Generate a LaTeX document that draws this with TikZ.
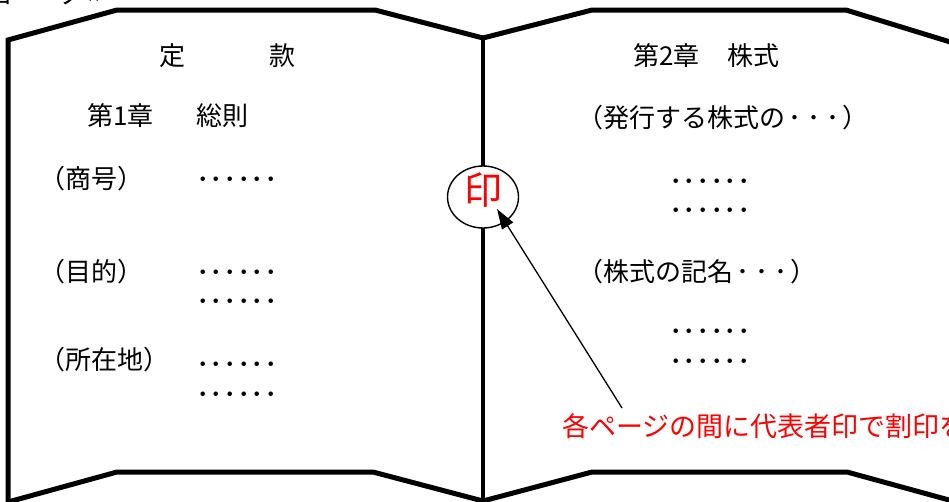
\documentclass[tikz,border=0pt]{standalone}
\usepackage{fontspec}
\newfontfamily\jp{Noto Sans CJK JP}
\usetikzlibrary{arrows.meta,shapes.geometric}
\newcommand{\dotrow}{\makebox[13.6pt][c]{･}\makebox[13.6pt][c]{･}\makebox[13.6pt][c]{･}\makebox[13.6pt][c]{･}\makebox[13.6pt][c]{･}\makebox[13.6pt][c]{･}}
\newcommand{\tridots}{\makebox[19pt][c]{･}\makebox[19pt][c]{･}\makebox[19pt][c]{･}}
\tikzset{
  page/.style={line width=5pt, line join=miter, line cap=butt},
  spine/.style={line width=4pt},
  txt/.style={font=\jp\fontsize{26}{26}\selectfont, inner sep=0pt, anchor=west},
  dots/.style={font=\jp\fontsize{27}{27}\selectfont, inner sep=0pt, anchor=west},
  redtxt/.style={font=\jp\fontsize{27}{27}\selectfont, text=red, inner sep=0pt, anchor=west},
  seal/.style={ellipse, draw, line width=1.4pt, fill=white, minimum width=71pt, minimum height=62pt, inner sep=0pt},
  sealtxt/.style={font=\jp\fontsize{38}{38}\selectfont, text=red, inner sep=0pt},
  pointer/.style={line width=1.3pt, -{Triangle[length=20pt,width=13pt]}}
}
\begin{document}
\begin{tikzpicture}[x=1pt,y=-1pt]
\useasboundingbox (0,0) rectangle (949,501);
\clip (0,0) rectangle (949,501);
\fill[white] (0,0) rectangle (949,501);
% cut-off fragment at top
\node[txt, font=\jp\fontsize{24}{24}\selectfont, anchor=base west] (frag) at (-12,4) {ロ　　ノ〃};
% left page
\draw[page] (8,510) -- (8,40) -- (117,10) -- (375,10) -- (483,38);
\draw[page] (8,502) -- (117,472) -- (373,472) -- (483,501);
% spine
\draw[spine] (483,38) -- (483,510);
% right page
\draw[page] (483,38) -- (592,10) -- (846,10) -- (960,45);
\draw[page] (483,501) -- (592,472) -- (847,472) -- (960,503);
% left texts
\node[txt] (tei) at (159,56) {定};
\node[txt] (kan) at (269,56) {款};
\node[txt] (ch1) at (87,116) {第1章};
\node[txt] (soku) at (196,116) {総則};
\node[txt] (shogo) at (39,179) {（商号）};
\node[dots] (d1) at (196,183) {\dotrow};
\node[txt] (mokuteki) at (39,272) {（目的）};
\node[dots] (d2) at (196,276) {\dotrow};
\node[dots] (d3) at (196,305) {\dotrow};
\node[txt] (shozai) at (39,360) {（所在地）};
\node[dots] (d4) at (196,368) {\dotrow};
\node[dots] (d5) at (196,398) {\dotrow};
% right texts
\node[txt] (ch2) at (633,56) {第2章};
\node[txt] (kabu) at (727,56) {株式};
\node[txt] (hakko) at (577,118) {（発行する株式の\tridots）};
\node[dots] (d6) at (669,185) {\dotrow};
\node[dots] (d7) at (669,214) {\dotrow};
\node[txt] (kimei) at (577,272) {（株式の記名\tridots）};
\node[dots] (d8) at (669,335) {\dotrow};
\node[dots] (d9) at (669,365) {\dotrow};
% seal
\node[seal] (seal) at (483,197) {};
\node[sealtxt] (in) at (483,190) {印};
% note
\node[redtxt] (note) at (562,426) {各ページの間に代表者印で割印を押す};
\coordinate (from) at (622,408);
\coordinate (tip) at (497,209);
\draw[pointer] (from) -- (tip);
\end{tikzpicture}
\end{document}
